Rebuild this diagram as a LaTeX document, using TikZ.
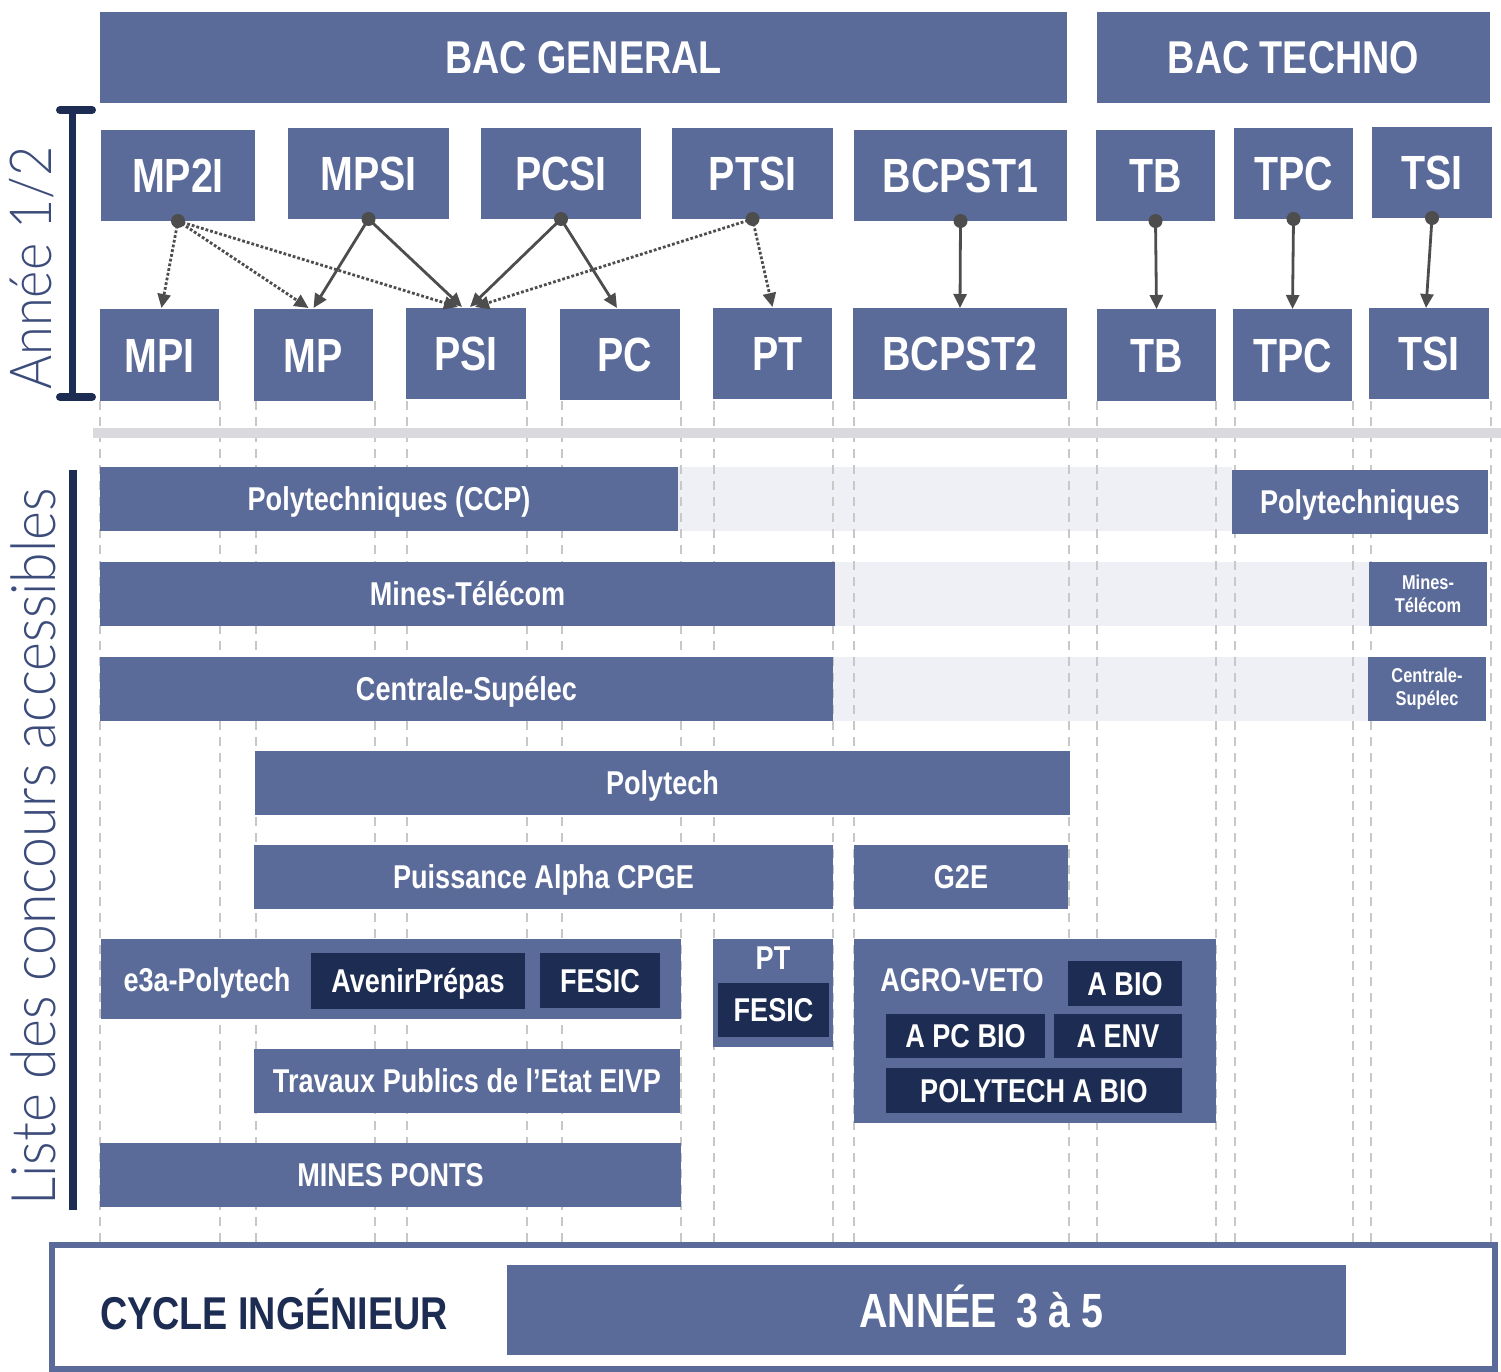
\documentclass[tikz,border=0pt]{standalone}
\usepackage{fontspec}
\setmainfont{Liberation Sans}[FakeStretch=0.82]
\newfontfamily\thinf{Lato Light}[FakeStretch=0.9]
\usetikzlibrary{arrows.meta,calc}
\definecolor{boxc}{HTML}{5B6B99}
\definecolor{darkc}{HTML}{1D2C52}
\definecolor{bandc}{HTML}{EEF0F5}
\definecolor{sepc}{HTML}{DADADE}
\definecolor{arrc}{HTML}{4D4D4D}
\definecolor{gridc}{HTML}{C8C8C8}
\definecolor{labc}{HTML}{3B4B7A}
\newcommand{\bx}[8][]{%
 \pgfmathsetmacro\bxcx{(#4+#6)/2}%
 \pgfmathsetmacro\bxcy{(#5+#7)/2}%
 \pgfmathsetmacro\bxw{#6-#4}%
 \pgfmathsetmacro\bxh{#7-#5}%
 \node[#2,minimum width=\bxw pt,minimum height=\bxh pt,#1] (#3) at (\bxcx,\bxcy) {#8};}
\tikzset{
 base/.style={draw=none, inner sep=0pt, outer sep=0pt, text=white},
 box/.style={base, fill=boxc, font=\bfseries\fontsize{33}{35}\selectfont, text height=23.5pt, text depth=0pt},
 bigbox/.style={box, font=\bfseries\fontsize{48}{50}\selectfont, text height=34pt},
 bacbox/.style={box, font=\bfseries\fontsize{46}{48}\selectfont, text height=33pt},
 darkbox/.style={box, fill=darkc},
 smallbox/.style={base, fill=boxc, font=\bfseries\fontsize{20}{23}\selectfont, align=center},
 band/.style={base, fill=bandc},
 lbl/.style={base, font=\bfseries\fontsize{33}{35}\selectfont, text height=23.5pt, text depth=0pt},
 conn/.style={draw=arrc, line width=2.8pt, -{Triangle[length=14pt,width=13pt]}},
 dotconn/.style={conn, dash pattern=on 2.8pt off 2pt},
 gridl/.style={draw=gridc, line width=1.3pt, dash pattern=on 9pt off 7pt},
 thinlbl/.style={text=labc, font=\thinf\fontsize{58}{58}\selectfont, inner sep=0pt},
}
\begin{document}
\begin{tikzpicture}[x=1pt,y=-1pt]
\useasboundingbox (0,0) rectangle (1501,1372);
% bands
\bx{band}{band1}{678}{467}{1232}{531}{}
\bx{band}{band2}{835}{562}{1369}{626}{}
\bx{band}{band3}{833}{657}{1368}{721}{}
% grid lines
\foreach \gx in {100,220,256,375,407,527,562,681,714,833,854,1069,1097,1216,1235,1353,1371,1491}
  \draw[gridl] (\gx,401) -- (\gx,1242);
% separator
\fill[sepc] (93,428) rectangle (1501,438);
% left labels
\node[thinlbl, rotate=90] (annee) at (32,268) {Année 1/2};
\draw[darkc, line width=7pt] (72,110) -- (72,397);
\draw[darkc, line width=8pt, line cap=round] (60,110) -- (92,110);
\draw[darkc, line width=8pt, line cap=round] (60,397) -- (92,397);
\node[thinlbl, rotate=90, font=\thinf\fontsize{61.5}{62}\selectfont] (liste) at (33,847) {Liste des concours accessibles};
\fill[darkc] (69,470) rectangle (77,1210);
% BAC
\bx{bacbox}{bacg}{100}{12}{1067}{103}{BAC GENERAL}
\bx{bacbox}{bact}{1097}{12}{1490}{103}{BAC TECHNO}
% year 1
\bx{bigbox}{mp2i}{101}{130}{255}{221}{MP2I}
\bx{bigbox}{mpsi}{288}{128}{449}{219}{MPSI}
\bx{bigbox}{pcsi}{481}{128}{641}{219}{PCSI}
\bx{bigbox}{ptsi}{672}{128}{833}{219}{PTSI}
\bx{bigbox}{bcpsta}{854}{130}{1067}{221}{BCPST1}
\bx{bigbox}{tba}{1096}{130}{1215}{221}{TB}
\bx{bigbox}{tpca}{1234}{128}{1353}{219}{TPC}
\bx{bigbox}{tsia}{1372}{127}{1492}{218}{TSI}
% year 2
\bx{bigbox}{mpi}{100}{309}{219}{401}{MPI}
\bx{bigbox}{mp}{254}{309}{373}{401}{MP}
\bx{bigbox}{psi}{406}{308}{526}{399}{PSI}
\bx{bigbox}{pc}{560}{309}{680}{400}{\hspace*{10pt}PC}
\bx{bigbox}{pt}{713}{308}{832}{399}{\hspace*{10pt}PT}
\bx{bigbox}{bcpstb}{853}{308}{1067}{399}{BCPST2}
\bx{bigbox}{tbb}{1097}{309}{1216}{401}{TB}
\bx{bigbox}{tpcb}{1233}{309}{1352}{401}{TPC}
\bx{bigbox}{tsib}{1369}{308}{1489}{399}{TSI}
% arrows
\draw[dotconn] (mp2i.south) -- ($(mpi.north)+(2,-1)$);
\draw[dotconn] (mp2i.south) -- ($(mp.north)+(-5,-1)$);
\draw[dotconn] (mp2i.south) -- ($(psi.north)+(-8,-1)$);
\draw[conn] (mpsi.south) -- ($(mp.north)+(0,-1)$);
\draw[conn] (mpsi.south) -- ($(psi.north)+(-4,-1)$);
\draw[conn] (pcsi.south) -- ($(psi.north)+(4,-1)$);
\draw[conn] (pcsi.south) -- ($(pc.north)+(-3,-1)$);
\draw[dotconn] (ptsi.south) -- ($(psi.north)+(9,-1)$);
\draw[dotconn] (ptsi.south) -- ($(pt.north)+(0,-1)$);
\draw[conn] (bcpsta.south) -- (bcpstb.north);
\draw[conn] (tba.south) -- (tbb.north);
\draw[conn] (tpca.south) -- (tpcb.north);
\draw[conn] (tsia.south) -- ($(tsib.north)+(-3,0)$);
\foreach \n in {mp2i,mpsi,pcsi,ptsi,bcpsta,tba,tpca,tsia}
  \fill[arrc] (\n.south) circle (7pt);
% concours
\bx{box}{ccp}{100}{467}{678}{531}{Polytechniques (CCP)}
\bx{box}{polyt}{1232}{470}{1488}{534}{Polytechniques}
\bx{box}{mt}{100}{562}{835}{626}{Mines-Télécom}
\bx{smallbox}{mtt}{1369}{562}{1487}{626}{Mines-\\Télécom}
\bx{box}{cs}{100}{657}{833}{721}{Centrale-Supélec}
\bx{smallbox}{cst}{1368}{657}{1486}{721}{Centrale-\\Supélec}
\bx{box}{polytech}{255}{751}{1070}{815}{Polytech}
\bx{box}{alpha}{254}{845}{833}{909}{Puissance Alpha CPGE}
\bx{box}{gde}{854}{845}{1068}{909}{G2E}
\bx{box}{etroisa}{101}{939}{681}{1019}{}
\node[lbl] (etroisalbl) at (207,980) {e3a-Polytech};
\bx{darkbox}{aven}{311}{953}{525}{1009}{AvenirPrépas}
\bx{darkbox}{fesica}{540}{953}{660}{1008}{FESIC}
\bx{box}{ptc}{713}{939}{833}{1047}{}
\node[lbl] (ptlbl) at (773,958) {PT};
\bx{darkbox}{fesicb}{718}{983}{829}{1037}{FESIC}
\bx{box}{agro}{854}{939}{1216}{1123}{}
\node[lbl] (agrolbl) at (962,980) {AGRO-VETO};
\bx{darkbox}{abio}{1068}{961}{1182}{1006}{A BIO}
\bx{darkbox}{apcbio}{886}{1014}{1045}{1058}{A PC BIO}
\bx{darkbox}{aenv}{1054}{1014}{1182}{1058}{A ENV}
\bx{darkbox}{polyabio}{886}{1068}{1182}{1113}{POLYTECH A BIO}
\bx{box}{tpe}{254}{1049}{680}{1113}{Travaux Publics de l’Etat EIVP}
\bx{box}{minesponts}{100}{1143}{681}{1207}{MINES PONTS}
% cycle
\bx[draw=boxc, line width=6pt]{base}{cyclebox}{52}{1245}{1495}{1369}{}
\node[base, text=darkc, font=\bfseries\fontsize{46}{48}\selectfont, text height=33pt, text depth=0pt] (cycle) at (274,1313) {CYCLE INGÉNIEUR};
\bx{bigbox}{annees}{507}{1265}{1346}{1355}{\hspace*{110pt}ANNÉE\hspace{8pt} 3 à 5}
\end{tikzpicture}
\end{document}
